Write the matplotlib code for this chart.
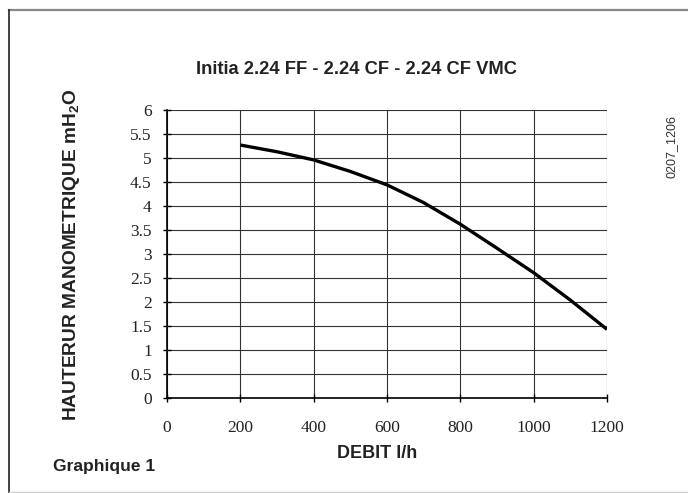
import matplotlib
matplotlib.use("Agg")
import matplotlib.pyplot as plt
from matplotlib.lines import Line2D

plt.rcParams['mathtext.fontset'] = 'custom'
plt.rcParams['mathtext.rm'] = 'Liberation Sans'
plt.rcParams['mathtext.bf'] = 'Liberation Sans:bold'

# pump curve
flow = [200, 300, 400, 500, 600, 700, 800, 900, 1000, 1100, 1200]
head = [5.27, 5.13, 4.96, 4.72, 4.44, 4.07, 3.62, 3.12, 2.61, 2.04, 1.43]

x_ticks = [0, 200, 400, 600, 800, 1000, 1200]
y_ticks = [0, 0.5, 1, 1.5, 2, 2.5, 3, 3.5, 4, 4.5, 5, 5.5, 6]
y_tick_labels = ["0", "0.5", "1", "1.5", "2", "2.5", "3", "3.5", "4", "4.5",
                 "5", "5.5", "6"]

W, H = 688, 493
fig = plt.figure(figsize=(W / 100, H / 100), dpi=100)
ax = fig.add_axes([167 / W, (H - 398) / H, 440 / W, 288 / H])

ax.plot(flow, head, color="black", lw=2.4, solid_capstyle="butt")
ax.set_xlim(0, 1200)
ax.set_ylim(0, 6)
ax.set_xticks(x_ticks)
ax.set_yticks(y_ticks)
ax.set_yticklabels(y_tick_labels)
ax.grid(True, color="#333333", lw=0.8)
ax.set_axisbelow(True)
for side in ["top", "right"]:
  ax.spines[side].set_visible(False)
for side in ["left", "bottom"]:
  ax.spines[side].set_linewidth(1.2)
ax.tick_params(axis="both", direction="inout", length=6, width=1,
               labelsize=12.5)
ax.tick_params(axis="x", pad=13)
ax.tick_params(axis="y", pad=8)
for lab in ax.get_xticklabels() + ax.get_yticklabels():
  lab.set_fontfamily("Liberation Serif")
  lab.set_color("#222222")

# texts
fig.text(356 / W, 1 - 70 / H, "Initia 2.24 FF - 2.24 CF - 2.24 CF VMC",
         ha="center", va="center", fontsize=13.2, fontweight="bold",
         family="Liberation Sans", color="#222222")
fig.text(72 / W, 1 - 255 / H, r"HAUTERUR MANOMETRIQUE mH$_\mathbf{2}$O",
         rotation=90, ha="center", va="center", fontsize=13.8,
         fontweight="bold", family="Liberation Sans", color="#222222")
fig.text(377 / W, 1 - 453 / H, "DEBIT l/h", ha="center", va="center",
         fontsize=13, fontweight="bold", family="Liberation Sans",
         color="#222222")
fig.text(53 / W, 1 - 467 / H, "Graphique 1", ha="left", va="center",
         fontsize=12.5, fontweight="bold", family="Liberation Sans",
         color="#222222")
fig.text(672 / W, 1 - 147 / H, "0207_1206", rotation=90, ha="center",
         va="center", fontsize=9, family="Liberation Sans", color="#333333")

# page frame
fig.add_artist(Line2D([9 / W, 1], [1 - 10 / H, 1 - 10 / H], color="#888888",
                      lw=1.6, transform=fig.transFigure))
fig.add_artist(Line2D([9 / W, 9 / W], [0, 1 - 10 / H], color="#222222",
                      lw=1.2, transform=fig.transFigure))
fig.add_artist(Line2D([9 / W, 1], [1 - 492 / H, 1 - 492 / H],
                      color="#cccccc", lw=1, transform=fig.transFigure))

fig.savefig("out.png", dpi=100)
